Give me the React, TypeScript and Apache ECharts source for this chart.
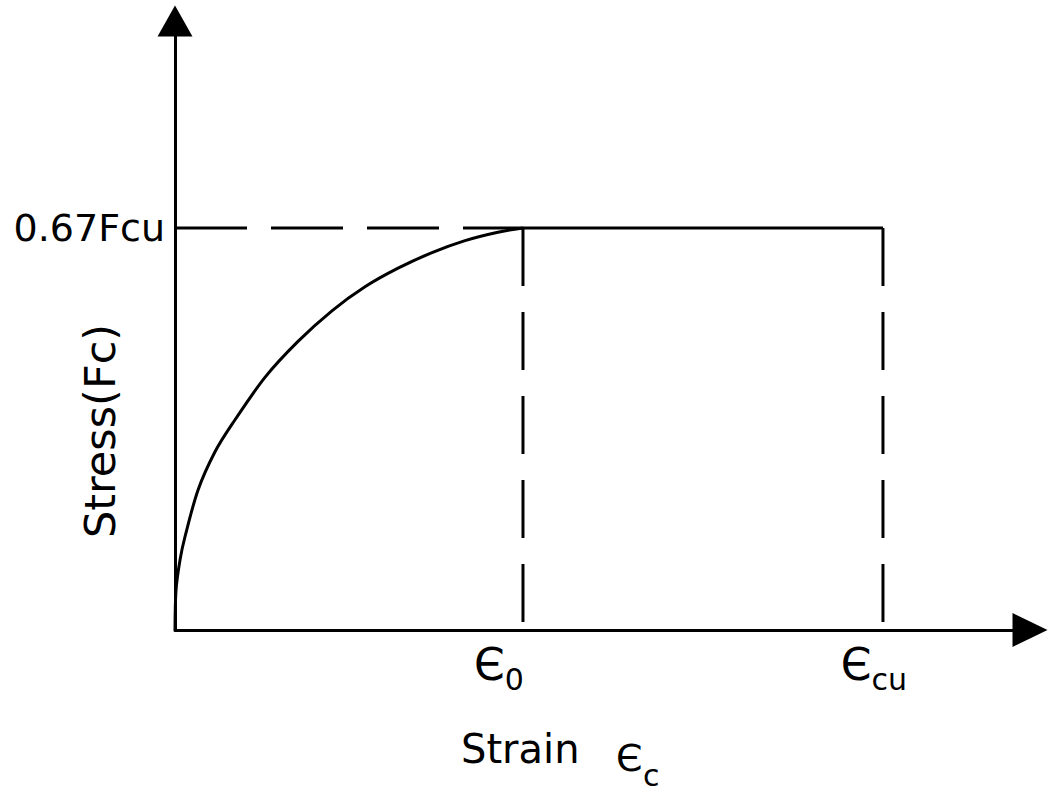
import React, { useEffect, useRef } from "react";
import * as echarts from "echarts";

// Stress–strain curve (strain in units where ε0 = 2, stress as a fraction of Fcu)
const curveStrain = [0, 0.006, 0.029, 0.057, 0.132, 0.23, 0.328, 0.517, 0.707, 0.902, 1.092, 1.282, 1.477, 1.667, 1.856, 2.0];
const curveStress = [0, 0.067, 0.117, 0.155, 0.233, 0.297, 0.343, 0.421, 0.481, 0.532, 0.572, 0.603, 0.629, 0.649, 0.663, 0.67];

const eps0 = 2.0;
const epsCu = 4.069;
const peakStress = 0.67;
const xMax = 4.914;
const yMax = 1.015;

const xTickValues = [eps0, epsCu];
const xTickLabels = ["{e|Є}{s|0}{p0|}", "{e|Є}{s|cu}{p1|}"];
const yTickValues = [peakStress];
const yTickLabels = ["0.67Fcu"];

const yAxisTitle = "Stress(Fc)";
const xAxisTitle = "Strain";
const xAxisSymbol = "Є";
const xAxisSub = "c";

const FONT = "DejaVu Sans";

export default function App() {
  const ref = useRef<HTMLDivElement>(null);
  useEffect(() => {
    if (!ref.current) return;
    const chart = echarts.init(ref.current, null, { renderer: "svg" });
    const curve = curveStrain.map((x, i) => [x, curveStress[i]]);
    const black = "#000";
    const option: any = {
      animation: false,
      backgroundColor: "#fff",
      grid: { left: 175, right: 26, top: 21, bottom: 162, outerBoundsMode: "none" },
      xAxis: {
        type: "value",
        min: 0,
        max: xMax,
        splitLine: { show: false },
        axisTick: { show: false },
        axisLine: {
          onZero: false,
          symbol: ["none", "triangle"],
          symbolSize: [34, 35],
          lineStyle: { color: black, width: 3 },
        },
        axisLabel: {
          customValues: xTickValues,
          margin: 12,
          color: black,
          fontFamily: FONT,
          formatter: (v: number) => {
            const i = xTickValues.findIndex((t) => Math.abs(t - v) < 1e-6);
            return i >= 0 ? xTickLabels[i] : "";
          },
          rich: {
            e: { fontSize: 44, fontFamily: FONT, color: black, verticalAlign: "bottom" },
            s: { fontSize: 30, fontFamily: FONT, color: black, verticalAlign: "bottom", padding: [0, 0, -8, 0] },
            p0: { width: 48 },
            p1: { width: 18 },
          },
        },
      },
      yAxis: {
        type: "value",
        min: 0,
        max: yMax,
        splitLine: { show: false },
        axisTick: { show: false },
        axisLine: {
          onZero: false,
          symbol: ["none", "triangle"],
          symbolSize: [35, 31],
          lineStyle: { color: black, width: 3 },
        },
        axisLabel: {
          customValues: yTickValues,
          margin: 10,
          color: black,
          fontFamily: FONT,
          fontSize: 38,
          padding: [0, 0, 20, 0],
          formatter: (v: number) => {
            const i = yTickValues.findIndex((t) => Math.abs(t - v) < 1e-6);
            return i >= 0 ? yTickLabels[i] : "";
          },
        },
      },
      graphic: [
        {
          type: "text",
          x: 100,
          y: 431,
          rotation: Math.PI / 2,
          style: {
            text: yAxisTitle,
            fontSize: 43,
            fontFamily: FONT,
            fill: black,
            align: "center",
            verticalAlign: "middle",
          },
        },
        {
          type: "text",
          x: 461,
          y: 749,
          style: {
            text: xAxisTitle,
            fontSize: 40,
            fontFamily: FONT,
            fill: black,
            align: "left",
            verticalAlign: "middle",
          },
        },
        {
          type: "text",
          x: 616,
          y: 758,
          style: {
            text: xAxisSymbol,
            fontSize: 38,
            fontFamily: FONT,
            fill: black,
            align: "left",
            verticalAlign: "middle",
          },
        },
        {
          type: "text",
          x: 643,
          y: 775,
          style: {
            text: xAxisSub,
            fontSize: 30,
            fontFamily: FONT,
            fill: black,
            align: "left",
            verticalAlign: "middle",
          },
        },
      ],
      series: [
        {
          type: "line",
          data: curve,
          smooth: 0.3,
          showSymbol: false,
          lineStyle: { color: black, width: 3 },
        },
        {
          type: "line",
          data: [[0, peakStress], [eps0, peakStress]],
          showSymbol: false,
          lineStyle: { color: black, width: 3, type: [72, 24] },
        },
        {
          type: "line",
          data: [[eps0, peakStress], [epsCu, peakStress]],
          showSymbol: false,
          lineStyle: { color: black, width: 3 },
        },
        {
          type: "line",
          data: [[eps0, peakStress], [eps0, 0]],
          showSymbol: false,
          lineStyle: { color: black, width: 3, type: [58, 26] },
        },
        {
          type: "line",
          data: [[epsCu, peakStress], [epsCu, 0]],
          showSymbol: false,
          lineStyle: { color: black, width: 3, type: [58, 26] },
        },
      ],
    };
    chart.setOption(option);
    return () => chart.dispose();
  }, []);
  return (
    <div
      ref={ref}
      style={{ position: "fixed", left: 0, top: 0, width: 1056, height: 792, background: "#fff" }}
    />
  );
}
